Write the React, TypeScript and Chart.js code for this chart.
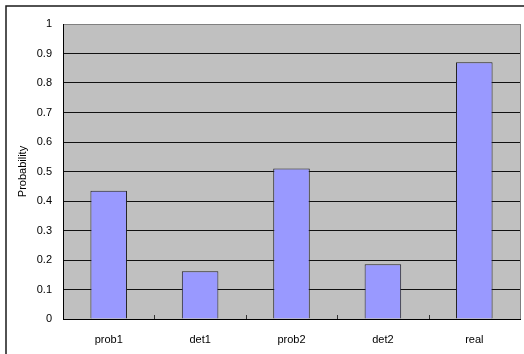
import React, { useEffect, useRef } from "react";
import { Chart, registerables } from "chart.js";

Chart.register(...registerables);

const categories = ["prob1", "det1", "prob2", "det2", "real"];
const probabilities = [0.435, 0.162, 0.51, 0.186, 0.87];
const yTicks = [0, 0.1, 0.2, 0.3, 0.4, 0.5, 0.6, 0.7, 0.8, 0.9, 1];

const FONT = "'Liberation Sans', Arial, sans-serif";

// Outer chart frame, grey plot background and plot border, plus inward category ticks
const excelFrame = {
  id: "excelFrame",
  beforeDraw(chart: any) {
    const { ctx, chartArea } = chart;
    ctx.save();
    ctx.fillStyle = "#ffffff";
    ctx.fillRect(0, 0, chart.width, chart.height);
    ctx.strokeStyle = "#1a1a1a";
    ctx.lineWidth = 1.5;
    ctx.strokeRect(6, 6, chart.width + 20, chart.height + 20);
    ctx.fillStyle = "#c0c0c0";
    ctx.fillRect(
      chartArea.left,
      chartArea.top,
      chartArea.right - chartArea.left,
      chartArea.bottom - chartArea.top
    );
    ctx.restore();
  },
  afterDraw(chart: any) {
    const { ctx, chartArea } = chart;
    const xScale = chart.scales.x;
    ctx.save();
    ctx.strokeStyle = "#808080";
    ctx.lineWidth = 1;
    ctx.beginPath();
    ctx.moveTo(Math.round(chartArea.right) + 0.5, chartArea.top);
    ctx.lineTo(Math.round(chartArea.right) + 0.5, chartArea.bottom);
    ctx.stroke();
    ctx.strokeStyle = "#333333";
    ctx.beginPath();
    for (let i = 1; i < categories.length; i++) {
      const x =
        Math.round(
          (xScale.getPixelForValue(i - 1) + xScale.getPixelForValue(i)) / 2
        ) + 0.5;
      ctx.moveTo(x, chartArea.bottom);
      ctx.lineTo(x, chartArea.bottom - 4);
    }
    ctx.stroke();
    ctx.restore();
  },
};

export default function App() {
  const canvasRef = useRef<HTMLCanvasElement | null>(null);

  useEffect(() => {
    if (!canvasRef.current) return;
    const chart = new Chart(canvasRef.current, {
      type: "bar",
      data: {
        labels: categories,
        datasets: [
          {
            data: probabilities,
            backgroundColor: "#9999ff",
            borderColor: "#222222",
            borderWidth: 1,
            categoryPercentage: 1,
            barPercentage: 0.4,
          },
        ],
      },
      options: {
        responsive: false,
        animation: false,
        layout: { padding: { top: 24, right: 4, left: 0, bottom: 0 } },
        plugins: {
          legend: { display: false },
          tooltip: { enabled: false },
        },
        scales: {
          x: {
            grid: { display: false, drawTicks: false },
            border: { color: "#000000", width: 1 },
            ticks: {
              color: "#000000",
              padding: 14,
              font: { family: FONT, size: 11 },
            },
            afterFit(scale: any) {
              scale.height = 35;
            },
          },
          y: {
            min: 0,
            max: 1,
            afterBuildTicks(scale: any) {
              scale.ticks = yTicks.map((v) => ({ value: v }));
            },
            grid: {
              drawTicks: false,
              color: (ctx: any) =>
                ctx.tick && ctx.tick.value === 1 ? "#808080" : "#111111",
              lineWidth: 1,
            },
            border: { color: "#000000", width: 1 },
            ticks: {
              color: "#000000",
              padding: 11,
              font: { family: FONT, size: 11 },
              callback: (v: any) => String(Number(v)),
            },
            title: {
              display: true,
              text: "Probability",
              color: "#000000",
              font: { family: FONT, size: 11 },
              padding: { top: 16, bottom: 0 },
            },
            afterFit(scale: any) {
              scale.width = 63;
            },
          },
        },
      },
      plugins: [excelFrame],
    });
    return () => chart.destroy();
  }, []);

  return (
    <div
      style={{ position: "fixed", left: 0, top: 0, width: 524, height: 354 }}
    >
      <canvas ref={canvasRef} width={524} height={354} />
    </div>
  );
}
